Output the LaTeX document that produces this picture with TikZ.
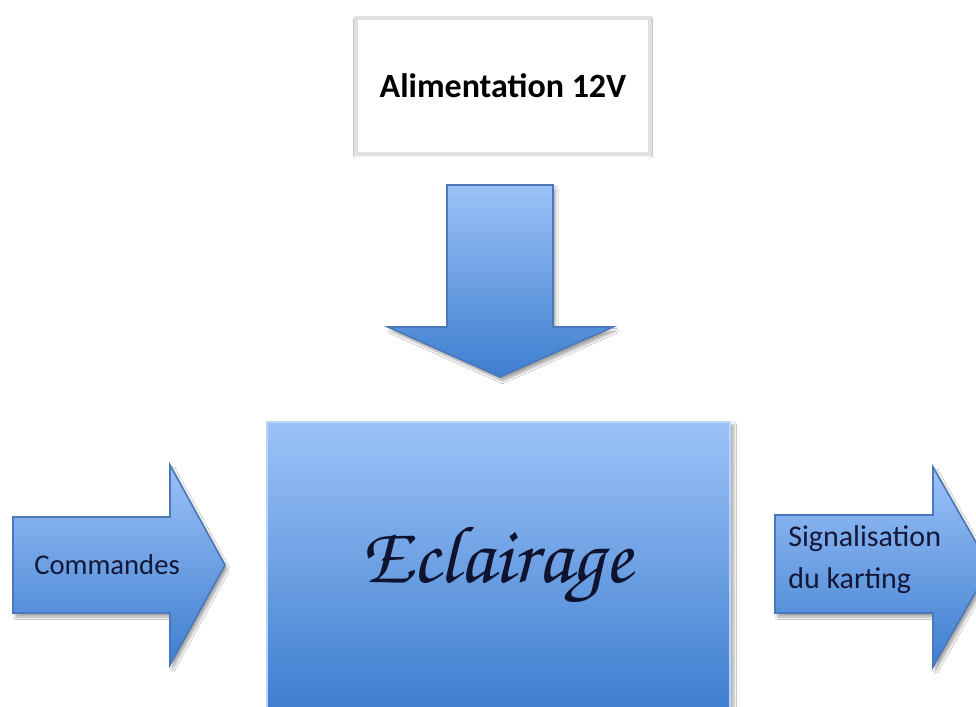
\documentclass[tikz,border=0pt]{standalone}
\usepackage[T1,TU]{fontenc}
\usepackage{fontspec}
\setmainfont{Carlito}
\usetikzlibrary{shadows.blur}
\definecolor{blueLight}{HTML}{9CC2F8}
\definecolor{blueDark}{HTML}{3E7ECF}
\definecolor{blueEdge}{HTML}{4A78B8}
\definecolor{ink}{HTML}{141838}
\tikzset{
  bluearrow/.style={draw=blueEdge, line width=1.2pt, top color=blueLight, bottom color=blueDark,
    blur shadow={shadow xshift=2pt, shadow yshift=-3pt, shadow blur steps=6, shadow opacity=35}},
  lbl/.style={font=\fontsize{21.5}{31}\selectfont, text=ink, align=left, inner sep=0pt},
}
\begin{document}
\begin{tikzpicture}[x=0.75pt,y=-0.75pt]
\useasboundingbox (0,0) rectangle (976,707);
\fill[white] (0,0) rectangle (976,707);
% top box
\node[draw=black!12, line width=3.5pt, fill=white, minimum width=294pt*0.75, minimum height=136pt*0.75,
  blur shadow={shadow xshift=0pt, shadow yshift=-1pt, shadow blur steps=4, shadow opacity=15},
  font=\fontsize{25.5}{30}\bfseries\selectfont] (alim) at (503,86) {Alimentation 12V};
% down arrow
\path[bluearrow] (447,185) -- (553,185) -- (553,327) -- (613,327) -- (500,377) -- (388,327) -- (447,327) -- cycle;
% main box
\begin{scope}
\clip (0,0) rectangle (976,707);
\path[top color=blueLight, bottom color=blueDark, draw=blueLight!70!white, line width=0.8pt,
  blur shadow={shadow xshift=3pt, shadow yshift=-2pt, shadow blur steps=6, shadow opacity=30}]
  (267,422) rectangle (730,712);
\node[text=ink!80!black, inner sep=0pt, font=\fontencoding{T1}\fontfamily{pzc}\fontseries{mb}\fontshape{it}\fontsize{61}{70}\selectfont] (ecl) at (497,566) {Eclairage};
% left arrow
\path[bluearrow] (13,517) -- (170,517) -- (170,465) -- (225,565) -- (170,665) -- (170,613) -- (13,613) -- cycle;
\node[lbl, anchor=west] (cmd) at (34,565) {Commandes};
% right arrow
\path[bluearrow] (775,515) -- (933,515) -- (933,467) -- (990,567) -- (933,667) -- (933,613) -- (775,613) -- cycle;
\node[lbl, anchor=west, font=\fontsize{22.5}{31.5}\selectfont] (sig) at (788,560) {Signalisation\\du karting};
\end{scope}
\end{tikzpicture}
\end{document}
